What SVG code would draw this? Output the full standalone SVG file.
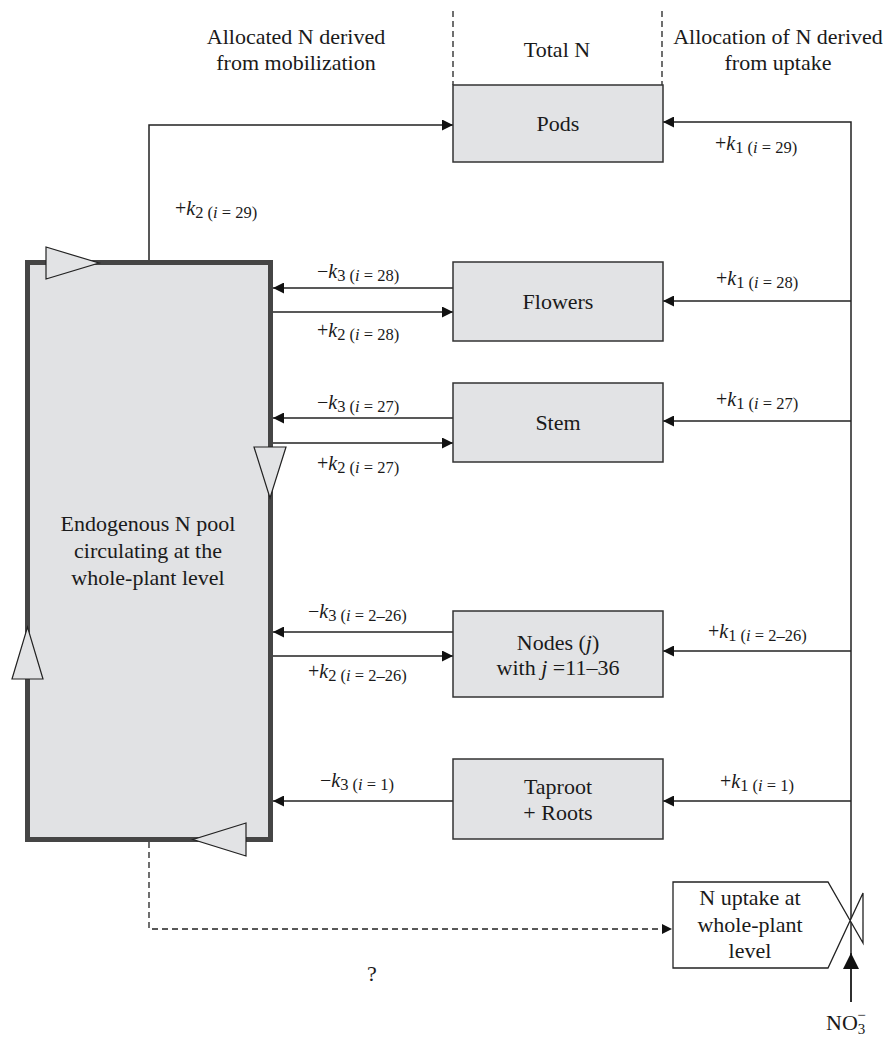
<svg xmlns="http://www.w3.org/2000/svg" width="886" height="1040" viewBox="0 0 886 1040">
<defs>
<style>
.box{fill:#e2e3e5;stroke:#333;stroke-width:1.5}
.pool{fill:#e1e2e4;stroke:#454545;stroke-width:5}
.tri{fill:#e2e3e5;stroke:#222;stroke-width:1.2}
.ln{fill:none;stroke:#222;stroke-width:1.5}
.dash{fill:none;stroke:#222;stroke-width:1.3;stroke-dasharray:6 4}
.t{font-family:"Liberation Serif","Times New Roman",serif;font-size:22px;fill:#1a1a1a}
.k{font-family:"Liberation Serif","Times New Roman",serif;font-size:20px;fill:#1a1a1a}
.sub{font-size:16.5px}
.it{font-style:italic}
</style>
<marker id="ah" viewBox="0 0 11 11" markerWidth="11" markerHeight="11" refX="11" refY="5.5" orient="auto" markerUnits="userSpaceOnUse">
<path d="M0,0 L11,5.5 L0,11 z" fill="#111"/>
</marker>
<marker id="ahs" viewBox="0 0 10 10" markerWidth="10" markerHeight="10" refX="10" refY="5" orient="auto" markerUnits="userSpaceOnUse">
<path d="M0,0 L10,5 L0,10 z" fill="#111"/>
</marker>
<marker id="ahb" viewBox="0 0 16 16" markerWidth="16" markerHeight="16" refX="16" refY="8" orient="auto" markerUnits="userSpaceOnUse">
<path d="M0,0 L16,8 L0,16 z" fill="#111"/>
</marker>
</defs>
<rect width="886" height="1040" fill="#fff"/>

<g id="headers">
<line class="dash" x1="453" y1="11" x2="453" y2="85" stroke-dasharray="5 4"/>
<line class="dash" x1="662" y1="11" x2="662" y2="85" stroke-dasharray="5 4"/>
<text class="t" x="296" y="44" text-anchor="middle">Allocated N derived</text>
<text class="t" x="296" y="70" text-anchor="middle">from mobilization</text>
<text class="t" x="557" y="57" text-anchor="middle">Total N</text>
<text class="t" x="778" y="44" text-anchor="middle">Allocation of N derived</text>
<text class="t" x="778" y="70" text-anchor="middle">from uptake</text>
</g>

<g id="connectors">
<path class="ln" d="M149,262 V125 H453" marker-end="url(#ah)"/>
<path class="ln" d="M851,1002 V122 H663" marker-end="url(#ah)"/>
<path class="ln" d="M453,288 H273" marker-end="url(#ah)"/>
<path class="ln" d="M273,312 H453" marker-end="url(#ah)"/>
<path class="ln" d="M851,301 H663" marker-end="url(#ah)"/>
<path class="ln" d="M453,418 H273" marker-end="url(#ah)"/>
<path class="ln" d="M273,443 H453" marker-end="url(#ah)"/>
<path class="ln" d="M851,421 H663" marker-end="url(#ah)"/>
<path class="ln" d="M453,632 H273" marker-end="url(#ah)"/>
<path class="ln" d="M273,656 H453" marker-end="url(#ah)"/>
<path class="ln" d="M851,651 H663" marker-end="url(#ah)"/>
<path class="ln" d="M453,801 H273" marker-end="url(#ah)"/>
<path class="ln" d="M851,801 H663" marker-end="url(#ah)"/>
<path class="dash" d="M149,842 V929 H672" marker-end="url(#ahs)"/>
<path class="ln" d="M851,1002 V953" marker-end="url(#ahb)"/>
</g>

<g id="labels">
<text class="k" x="175" y="215">+<tspan class="it">k</tspan><tspan class="sub" dy="3">2 (<tspan class="it">i</tspan> = 29)</tspan></text>
<text class="k" x="715" y="150">+<tspan class="it">k</tspan><tspan class="sub" dy="3">1 (<tspan class="it">i</tspan> = 29)</tspan></text>
<text class="k" x="317" y="278">−<tspan class="it">k</tspan><tspan class="sub" dy="3">3 (<tspan class="it">i</tspan> = 28)</tspan></text>
<text class="k" x="317" y="337">+<tspan class="it">k</tspan><tspan class="sub" dy="3">2 (<tspan class="it">i</tspan> = 28)</tspan></text>
<text class="k" x="716" y="285">+<tspan class="it">k</tspan><tspan class="sub" dy="3">1 (<tspan class="it">i</tspan> = 28)</tspan></text>
<text class="k" x="317" y="409">−<tspan class="it">k</tspan><tspan class="sub" dy="3">3 (<tspan class="it">i</tspan> = 27)</tspan></text>
<text class="k" x="317" y="470">+<tspan class="it">k</tspan><tspan class="sub" dy="3">2 (<tspan class="it">i</tspan> = 27)</tspan></text>
<text class="k" x="716" y="406">+<tspan class="it">k</tspan><tspan class="sub" dy="3">1 (<tspan class="it">i</tspan> = 27)</tspan></text>
<text class="k" x="308" y="618">−<tspan class="it">k</tspan><tspan class="sub" dy="3">3 (<tspan class="it">i</tspan> = 2–26)</tspan></text>
<text class="k" x="308" y="678">+<tspan class="it">k</tspan><tspan class="sub" dy="3">2 (<tspan class="it">i</tspan> = 2–26)</tspan></text>
<text class="k" x="708" y="638">+<tspan class="it">k</tspan><tspan class="sub" dy="3">1 (<tspan class="it">i</tspan> = 2–26)</tspan></text>
<text class="k" x="320" y="787">−<tspan class="it">k</tspan><tspan class="sub" dy="3">3 (<tspan class="it">i</tspan> = 1)</tspan></text>
<text class="k" x="720" y="788">+<tspan class="it">k</tspan><tspan class="sub" dy="3">1 (<tspan class="it">i</tspan> = 1)</tspan></text>
<text class="t" x="372" y="981" text-anchor="middle">?</text>
<text class="t" x="826" y="1030">NO<tspan font-size="15" dy="4">3</tspan><tspan font-size="15" dx="-8" dy="-14">−</tspan></text>
</g>

<g id="pool">
<rect class="pool" x="27.5" y="262.5" width="243" height="577"/>
<polygon class="tri" points="46,247 46,279 99,263"/>
<polygon class="tri" points="254,447 286,447 270,498"/>
<polygon class="tri" points="12,679 43,679 27.5,627"/>
<polygon class="tri" points="246,823 246,856 193,839.5"/>
<text class="t" x="148" y="531" text-anchor="middle">Endogenous N pool</text>
<text class="t" x="148" y="558" text-anchor="middle">circulating at the</text>
<text class="t" x="148" y="585" text-anchor="middle">whole-plant level</text>
</g>

<g id="pods">
<rect class="box" x="453" y="85" width="210" height="77"/>
<text class="t" x="558" y="131" text-anchor="middle">Pods</text>
</g>
<g id="flowers">
<rect class="box" x="453" y="262" width="210" height="79"/>
<text class="t" x="558" y="309" text-anchor="middle">Flowers</text>
</g>
<g id="stem">
<rect class="box" x="453" y="383" width="210" height="79"/>
<text class="t" x="558" y="430" text-anchor="middle">Stem</text>
</g>
<g id="nodes">
<rect class="box" x="453" y="611" width="210" height="86"/>
<text class="t" x="558" y="650" text-anchor="middle">Nodes (<tspan class="it">j</tspan>)</text>
<text class="t" x="558" y="675" text-anchor="middle">with <tspan class="it">j</tspan> =11–36</text>
</g>
<g id="taproot">
<rect class="box" x="453" y="759" width="210" height="80"/>
<text class="t" x="558" y="794" text-anchor="middle">Taproot</text>
<text class="t" x="558" y="820" text-anchor="middle">+ Roots</text>
</g>
<g id="uptake">
<path d="M863,943 L828,882 L673,882 L673,968 L828,968 L863,893 Z" fill="#fff" stroke="#222" stroke-width="1.3"/>
<text class="t" x="750" y="905" text-anchor="middle">N uptake at</text>
<text class="t" x="750" y="932" text-anchor="middle">whole-plant</text>
<text class="t" x="750" y="958" text-anchor="middle">level</text>
</g>
</svg>
